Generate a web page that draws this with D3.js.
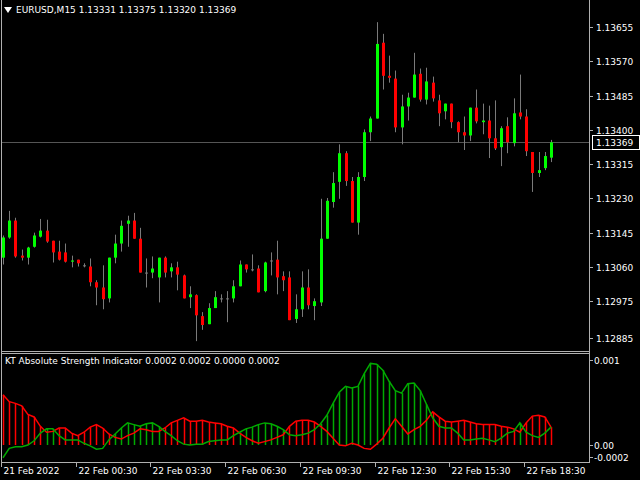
<!DOCTYPE html>
<html>
<head>
<meta charset="utf-8">
<script src="https://cdn.jsdelivr.net/npm/d3@7"></script>
<style>
  body { margin: 0; background: #000; }
  text { font-family: "DejaVu Sans", sans-serif; font-size: 9px; fill: #fff; }
</style>
</head>
<body>
<script>
// EURUSD M15 candles, 21 Feb 21:30 onward
var opens = [1.13083,1.13133,1.13175,1.13088,1.13083,1.13110,1.13135,1.13150,1.13125,1.13098,1.13096,1.13073,1.13078,1.13064,1.13061,1.13022,1.13009,1.12982,1.13083,1.13118,1.13167,1.13175,1.13130,1.13046,1.13046,1.13034,1.13083,1.13049,1.13059,1.13039,1.12985,1.12990,1.12938,1.12918,1.12958,1.12982,1.12982,1.12982,1.13012,1.13066,1.13054,1.13056,1.13000,1.13076,1.13078,1.13037,1.13034,1.12931,1.12955,1.13009,1.12963,1.12972,1.13130,1.13221,1.13271,1.13342,1.13273,1.13170,1.13283,1.13394,1.13428,1.13616,1.13534,1.13527,1.13406,1.13458,1.13480,1.13539,1.13475,1.13517,1.13473,1.13446,1.13465,1.13419,1.13394,1.13386,1.13455,1.13419,1.13423,1.13379,1.13357,1.13409,1.13367,1.13443,1.13433,1.13345,1.13293,1.13305,1.13331];
var highs = [1.13138,1.13199,1.13182,1.13103,1.13110,1.13145,1.13179,1.13177,1.13125,1.13125,1.13118,1.13088,1.13078,1.13069,1.13081,1.13027,1.13064,1.13083,1.13140,1.13175,1.13187,1.13194,1.13157,1.13081,1.13086,1.13083,1.13086,1.13069,1.13073,1.13041,1.13012,1.12992,1.12948,1.12970,1.13000,1.12992,1.13000,1.13027,1.13076,1.13066,1.13091,1.13064,1.13073,1.13096,1.13125,1.13049,1.13049,1.12992,1.13049,1.13054,1.12982,1.13229,1.13231,1.13295,1.13364,1.13347,1.13283,1.13295,1.13401,1.13433,1.13667,1.13638,1.13584,1.13547,1.13487,1.13492,1.13591,1.13552,1.13554,1.13532,1.13487,1.13465,1.13465,1.13421,1.13433,1.13455,1.13500,1.13465,1.13460,1.13473,1.13409,1.13431,1.13478,1.13537,1.13451,1.13345,1.13345,1.13345,1.13375];
var lows = [1.13066,1.13130,1.13083,1.13076,1.13066,1.13108,1.13133,1.13120,1.13071,1.13076,1.13071,1.13059,1.13061,1.13059,1.13012,1.12965,1.12955,1.12972,1.13069,1.13098,1.13110,1.13130,1.13046,1.13009,1.13032,1.12972,1.13034,1.13034,1.13002,1.12982,1.12958,1.12876,1.12904,1.12918,1.12958,1.12972,1.12923,1.12972,1.13012,1.13046,1.13049,1.12997,1.12997,1.13039,1.12992,1.13000,1.12928,1.12921,1.12936,1.12955,1.12928,1.12963,1.13130,1.13207,1.13229,1.13261,1.13170,1.13140,1.13273,1.13372,1.13428,1.13500,1.13517,1.13394,1.13364,1.13423,1.13480,1.13470,1.13463,1.13470,1.13409,1.13426,1.13404,1.13369,1.13350,1.13372,1.13416,1.13389,1.13330,1.13350,1.13310,1.13342,1.13359,1.13426,1.13335,1.13246,1.13283,1.13300,1.13320];
var closes = [1.13133,1.13175,1.13086,1.13083,1.13108,1.13138,1.13150,1.13123,1.13096,1.13078,1.13073,1.13076,1.13069,1.13064,1.13022,1.13009,1.12980,1.13083,1.13118,1.13162,1.13175,1.13130,1.13046,1.13046,1.13056,1.13083,1.13046,1.13059,1.13041,1.12982,1.12992,1.12940,1.12916,1.12958,1.12985,1.12982,1.12982,1.13012,1.13066,1.13054,1.13054,1.12997,1.13071,1.13076,1.13034,1.13027,1.12928,1.12955,1.13009,1.12965,1.12975,1.13130,1.13224,1.13268,1.13342,1.13273,1.13170,1.13283,1.13394,1.13428,1.13613,1.13534,1.13529,1.13406,1.13458,1.13480,1.13537,1.13475,1.13520,1.13478,1.13441,1.13465,1.13419,1.13394,1.13386,1.13455,1.13421,1.13423,1.13379,1.13354,1.13404,1.13369,1.13441,1.13433,1.13347,1.13293,1.13300,1.13335,1.13369];

// KT Absolute Strength (x 0.0001)
var bulls = [-1.5,-0.4,-0.2,-0.2,0,0.5,1.4,1.9,1.9,1.1,0.6,0.6,0.6,0.2,-0.1,-0.5,-0.4,0.6,1.3,2.0,2.6,2.4,2.2,2.5,2.6,2.2,1.6,1.1,0.5,0.1,0,0.1,0.1,0.4,0.5,0.6,0.6,1.1,1.5,1.9,2.1,2.4,2.6,2.5,2.2,1.8,1.2,1.1,1.2,1.4,1.8,2.5,3.5,4.9,6.2,6.9,6.7,6.9,8.4,9.6,9.5,8.8,7.5,6.4,6.1,7.2,7.3,6.4,4.8,3.2,2.2,2.0,2.0,1.4,0.6,0.6,0.7,0.8,0.6,0.4,0.8,1.4,1.6,2.6,1.5,1.1,0.9,1.4,2.1];
var bears = [5.9,5.1,4.9,4.6,3.6,3.3,2.2,1.5,1.6,2.0,2.0,1.4,1.1,1.5,2.1,2.4,2.0,1.3,0.9,0.7,1.1,1.4,1.9,1.8,1.6,1.6,2.0,2.6,2.9,3.2,2.8,2.8,2.9,2.7,2.6,2.5,2.2,2.0,1.4,0.9,0.5,0.2,0.4,0.6,0.9,1.2,2.2,2.8,2.9,2.9,2.7,2.2,1.6,0.8,0,-0.1,0.2,0,-0.4,-0.5,0.1,0.8,2.0,3.1,2.2,1.3,1.8,2.2,2.9,3.9,3.3,2.8,2.7,2.8,2.9,2.7,2.5,2.4,2.4,2.4,2.2,2.1,1.9,1.5,2.6,3.4,3.5,3.3,2.1];

var priceTicks = [1.13655,1.13570,1.13485,1.13400,1.13315,1.13230,1.13145,1.13060,1.12975,1.12885];
var timeLabels = ["21 Feb 2022","22 Feb 00:30","22 Feb 03:30","22 Feb 06:30","22 Feb 09:30","22 Feb 12:30","22 Feb 15:30","22 Feb 18:30"];
var timeIdx = [0,12,24,36,48,60,72,84];
var lastPrice = 1.13369;

var W = 640, H = 480, plotR = 589;
var svg = d3.select("body").append("svg").attr("width", W).attr("height", H);
svg.append("rect").attr("width", W).attr("height", H).attr("fill", "#000");

var x = d3.scaleLinear().domain([0, 88]).range([3, 551]);
var y = d3.scaleLinear().domain([1.12885, 1.13655]).range([337.5, 27]);
var yi = d3.scaleLinear().domain([0, 0.001]).range([445, 360]);

// frames
var grey = "#b0b0b0";
svg.append("line").attr("x1", 1.5).attr("x2", 1.5).attr("y1", 0).attr("y2", 463).attr("stroke", grey);
svg.append("line").attr("x1", plotR + .5).attr("x2", plotR + .5).attr("y1", 0).attr("y2", 463).attr("stroke", grey);
svg.append("line").attr("x1", 1).attr("x2", plotR).attr("y1", 351.5).attr("y2", 351.5).attr("stroke", grey);
svg.append("line").attr("x1", 1).attr("x2", plotR).attr("y1", 353.5).attr("y2", 353.5).attr("stroke", grey);
svg.append("line").attr("x1", 1).attr("x2", plotR).attr("y1", 462.5).attr("y2", 462.5).attr("stroke", grey);

// price axis
var pa = svg.append("g");
priceTicks.forEach(function (p) {
  var yy = Math.round(y(p)) + .5;
  pa.append("line").attr("x1", plotR).attr("x2", plotR + 4).attr("y1", yy).attr("y2", yy).attr("stroke", grey);
  pa.append("text").attr("x", 596).attr("y", yy + 3).text(p.toFixed(5));
});

// current price line + label
var ly = Math.round(y(lastPrice)) + .5;
svg.append("line").attr("x1", 2).attr("x2", plotR).attr("y1", ly).attr("y2", ly).attr("stroke", "#555");
svg.append("rect").attr("x", 592.5).attr("y", ly - 7).attr("width", 47).attr("height", 14).attr("fill", "#000").attr("stroke", "#fff");
svg.append("text").attr("x", 596).attr("y", ly + 3).text(lastPrice.toFixed(5));

// candles
var idx = d3.range(opens.length);
var c = svg.append("g").selectAll("g").data(idx).join("g");
c.append("line")
  .attr("x1", function (i) { return Math.round(x(i)) + .5; })
  .attr("x2", function (i) { return Math.round(x(i)) + .5; })
  .attr("y1", function (i) { return y(highs[i]); })
  .attr("y2", function (i) { return y(lows[i]); })
  .attr("stroke", "#7a7a7a");
c.append("rect")
  .attr("x", function (i) { return Math.round(x(i)) - 1; })
  .attr("width", 3)
  .attr("y", function (i) { return y(Math.max(opens[i], closes[i])); })
  .attr("height", function (i) { return Math.max(1, Math.abs(y(opens[i]) - y(closes[i]))); })
  .attr("fill", function (i) {
    if (closes[i] > opens[i]) return "#00ff00";
    if (closes[i] < opens[i]) return "#ff0000";
    return "#7a7a7a";
  });

// indicator histogram
var h = svg.append("g");
h.selectAll("line").data(idx).join("line")
  .attr("x1", function (i) { return Math.round(x(i)) + .5; })
  .attr("x2", function (i) { return Math.round(x(i)) + .5; })
  .attr("y1", yi(0))
  .attr("y2", function (i) { return yi(Math.max(bulls[i], bears[i]) / 10000); })
  .attr("stroke-width", 1.5)
  .attr("stroke", function (i) { return bulls[i] > bears[i] ? "#00aa00" : "#ff0000"; });

var lineGen = function (arr) {
  return d3.line().x(function (i) { return x(i); }).y(function (i) { return yi(arr[i] / 10000); });
};
svg.append("path").attr("d", lineGen(bears)(idx)).attr("fill", "none").attr("stroke", "#ff0000").attr("stroke-width", 1.5);
svg.append("path").attr("d", lineGen(bulls)(idx)).attr("fill", "none").attr("stroke", "#00aa00").attr("stroke-width", 1.5);

// indicator axis
[[0.001, "0.001", 360], [0, "0.00", 445], [-0.0002, "-0.0002", 457]].forEach(function (t) {
  var yy = t[2] + .5;
  svg.append("line").attr("x1", plotR).attr("x2", plotR + 4).attr("y1", yy).attr("y2", yy).attr("stroke", grey);
  svg.append("text").attr("x", 594).attr("y", yy + 3).text(t[1]);
});

// time axis
timeIdx.forEach(function (t, k) {
  var xx = Math.round(x(t)) - 1.5;
  svg.append("line").attr("x1", xx).attr("x2", xx).attr("y1", 462).attr("y2", 467).attr("stroke", grey);
  svg.append("text").attr("x", xx + 2).attr("y", 474).text(timeLabels[k]);
});

// titles
svg.append("path").attr("d", "M4,7 L12,7 L8,13 Z").attr("fill", "#fff");
svg.append("text").attr("x", 16).attr("y", 13).text("EURUSD,M15  1.13331 1.13375 1.13320 1.13369");
svg.append("text").attr("x", 5).attr("y", 364).text("KT Absolute Strength Indicator 0.0002 0.0002 0.0000 0.0002");
</script>
</body>
</html>
